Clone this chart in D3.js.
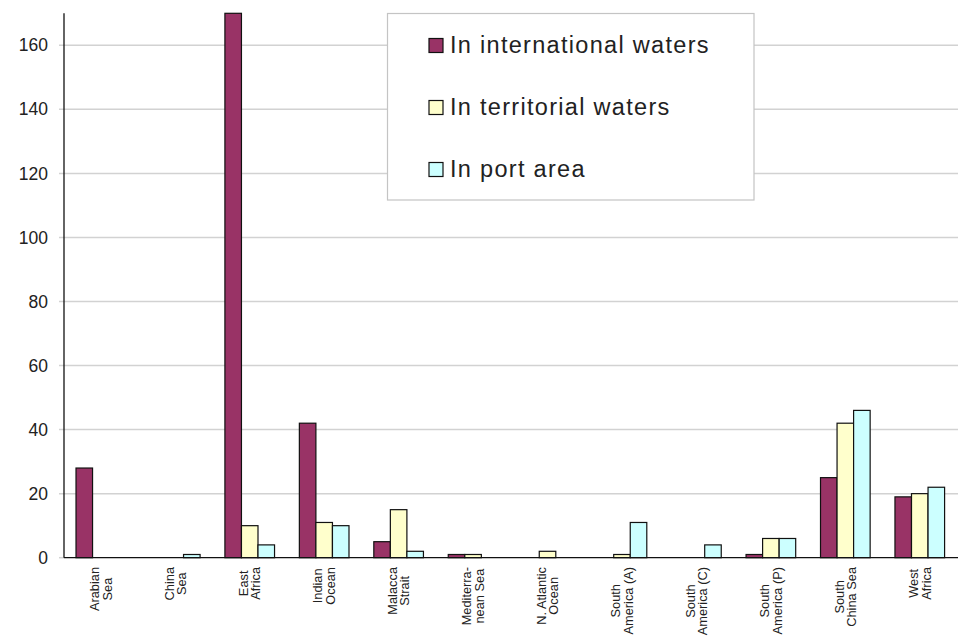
<!DOCTYPE html>
<html>
<head>
<meta charset="utf-8">
<script src="https://cdn.jsdelivr.net/npm/d3@7/dist/d3.min.js"></script>
<style>
  html, body { margin: 0; padding: 0; background: #fff; }
  svg { display: block; font-family: "Liberation Sans", Arial, sans-serif; }
</style>
</head>
<body>
<svg id="chart" width="964" height="644"></svg>
<script>
// Regions (each label split into its display lines)
const regions = [
  ["Arabian", "Sea"],
  ["China", "Sea"],
  ["East", "Africa"],
  ["Indian", "Ocean"],
  ["Malacca", "Strait"],
  ["Mediterra-", "nean Sea"],
  ["N. Atlantic", "Ocean"],
  ["South", "America (A)"],
  ["South", "America (C)"],
  ["South", "America (P)"],
  ["South", "China Sea"],
  ["West", "Africa"]
];

const seriesNames = ["In international waters", "In territorial waters", "In port area"];
const seriesColors = ["#993366", "#FFFFCC", "#CCFFFF"];

// Incidents per region, one array per series
const international = [28, 0, 170, 42, 5, 1, 0, 0, 0, 1, 25, 19];
const territorial   = [0, 0, 10, 11, 15, 1, 2, 1, 0, 6, 42, 20];
const portArea      = [0, 1, 4, 10, 2, 0, 0, 11, 4, 6, 46, 22];

const yTicks = [0, 20, 40, 60, 80, 100, 120, 140, 160];
const yMax = 170;

const svg = d3.select("#chart");
const plotLeft = 64, plotRight = 958, plotTop = 13.3, plotBottom = 557.7;

const x0 = d3.scaleBand().domain(d3.range(regions.length)).range([63.6, 957]);
const x1 = d3.scaleBand().domain(d3.range(seriesNames.length))
  .range([x0.bandwidth() / 6, x0.bandwidth() * 5 / 6]);
const y = d3.scaleLinear().domain([0, yMax]).range([plotBottom, plotTop]);

const seriesValues = [international, territorial, portArea];

// Horizontal grid lines
svg.append("g")
  .selectAll("line")
  .data(yTicks.filter(t => t > 0))
  .join("line")
  .attr("x1", plotLeft - 5).attr("x2", plotRight)
  .attr("y1", d => y(d)).attr("y2", d => y(d))
  .attr("stroke", "#d2d2d2").attr("stroke-width", 1.5);

// Y axis labels
const yAxis = d3.axisLeft(y).tickValues(yTicks).tickSize(0).tickPadding(16);
const gy = svg.append("g").attr("transform", `translate(${plotLeft},0)`).call(yAxis);
gy.select(".domain").remove();
gy.selectAll("text").attr("font-size", 17.5).attr("fill", "#222")
  .attr("font-family", "'Liberation Sans', Arial, sans-serif");
svg.append("line").attr("x1", plotLeft - 5).attr("x2", plotLeft)
  .attr("y1", plotBottom).attr("y2", plotBottom)
  .attr("stroke", "#d2d2d2").attr("stroke-width", 1.5);

// Bars
const groups = svg.append("g").selectAll("g")
  .data(d3.range(regions.length))
  .join("g")
  .attr("transform", i => `translate(${x0(i)},0)`);

groups.selectAll("rect")
  .data(i => seriesValues.map((vals, s) => ({ s, v: vals[i] })).filter(d => d.v > 0))
  .join("rect")
  .attr("x", d => x1(d.s))
  .attr("width", x1.bandwidth())
  .attr("y", d => y(d.v))
  .attr("height", d => plotBottom - y(d.v))
  .attr("fill", d => seriesColors[d.s])
  .attr("stroke", "#111")
  .attr("stroke-width", 1.2);

// Axis lines
svg.append("line").attr("x1", plotLeft).attr("x2", plotLeft)
  .attr("y1", plotTop).attr("y2", plotBottom)
  .attr("stroke", "#111").attr("stroke-width", 1.3);
svg.append("line").attr("x1", plotLeft).attr("x2", plotRight)
  .attr("y1", plotBottom).attr("y2", plotBottom)
  .attr("stroke", "#111").attr("stroke-width", 1.3);

// Rotated two-line region labels, top edge aligned under the axis
const labelTop = 567, lineGap = 12.5;
regions.forEach((lines, i) => {
  const cx = x0(i) + x0.bandwidth() / 2;
  const g = svg.append("g");
  const texts = lines.map(ln => g.append("text")
    .text(ln)
    .attr("font-size", 12.8)
    .attr("fill", "#222")
    .attr("text-anchor", "middle"));
  const maxLen = d3.max(texts, t => t.node().getComputedTextLength());
  const cy = labelTop + maxLen / 2;
  texts.forEach((t, k) => {
    const lx = cx + (k - (lines.length - 1) / 2) * lineGap + 4.5;
    t.attr("transform", `translate(${lx},${cy}) rotate(-90)`);
  });
});

// Legend
const legend = svg.append("g");
legend.append("rect")
  .attr("x", 387.5).attr("y", 13.5).attr("width", 366.5).attr("height", 186.5)
  .attr("fill", "#fff").attr("stroke", "#c4c4c4").attr("stroke-width", 1.2);
const rowsY = [53, 115, 177];
seriesNames.forEach((name, s) => {
  legend.append("rect")
    .attr("x", 429).attr("y", rowsY[s] - 14.5).attr("width", 14).attr("height", 14)
    .attr("fill", seriesColors[s]).attr("stroke", "#111").attr("stroke-width", 1.2);
  legend.append("text")
    .attr("x", 450).attr("y", rowsY[s])
    .attr("font-size", 23.5).attr("letter-spacing", 1.3).attr("fill", "#222")
    .text(name);
});
</script>
</body>
</html>
